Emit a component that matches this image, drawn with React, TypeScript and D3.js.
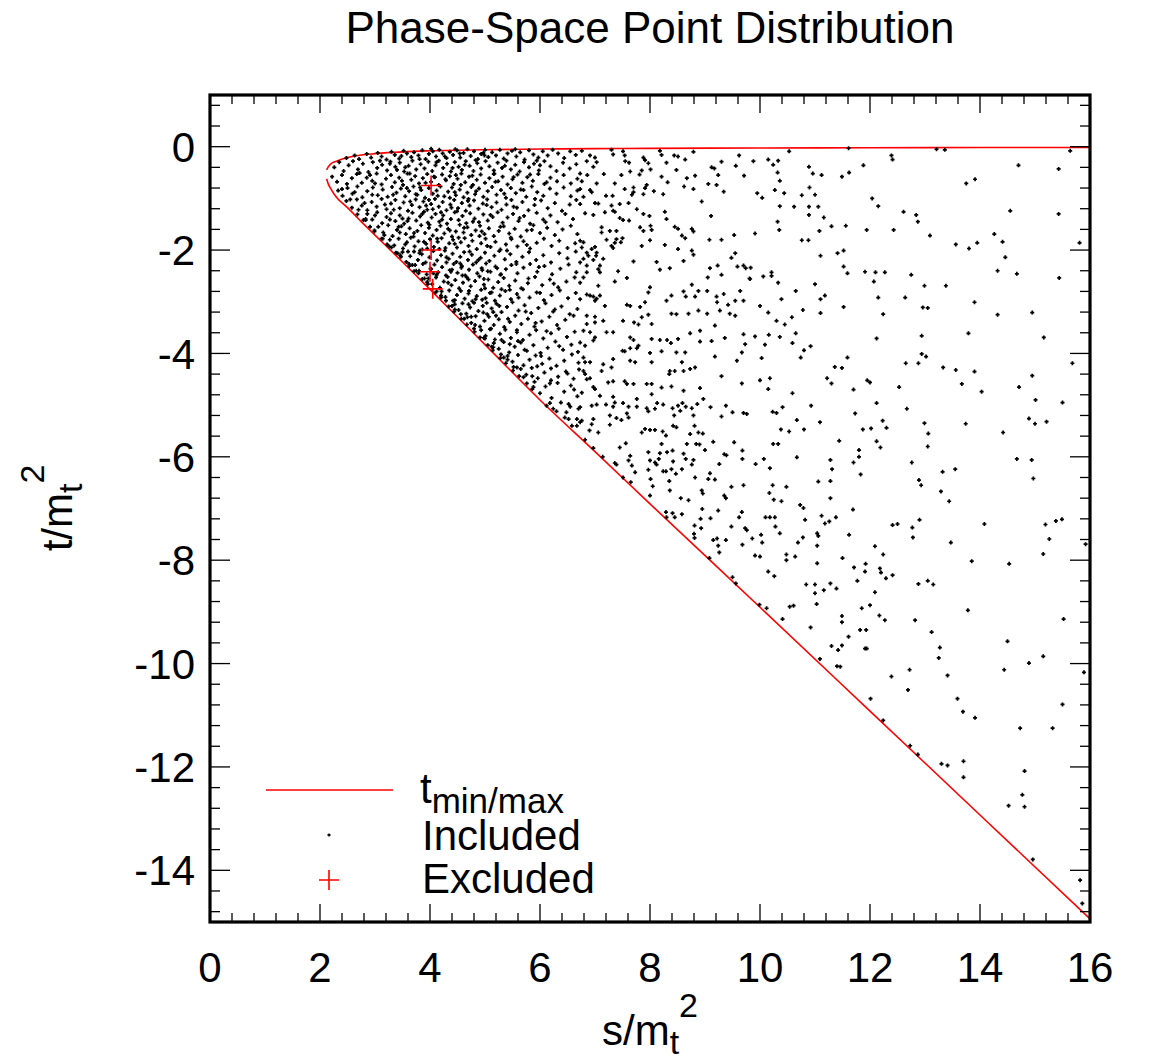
import React from "react";
import * as d3 from "d3";

// Kinematic boundary t_min / t_max sampled along s/m_t^2
const boundaryS = [2.12, 2.15, 2.2, 2.3, 2.5, 2.75, 3, 3.5, 4, 5, 6, 7, 8, 10, 12, 14, 16];
const boundaryTMax = [-0.45, -0.39, -0.33, -0.28, -0.21, -0.16, -0.135, -0.1, -0.08, -0.058, -0.046, -0.037, -0.032, -0.025, -0.02, -0.017, -0.015];
const boundaryTMin = [-0.62, -0.72, -0.82, -0.98, -1.18, -1.45, -1.71, -2.23, -2.76, -3.83, -4.9, -5.9, -6.91, -8.91, -10.92, -12.93, -14.94];

// Points rejected by the cuts
const excludedS = [4.02, 4.02, 4.0, 4.05];
const excludedT = [-0.75, -2.0, -2.42, -2.75];

// Accepted phase-space points, flat (s, t) pairs
const includedNearThreshold = [
  2.48,-0.22, 2.63,-0.17, 2.71,-0.24, 2.85,-0.14, 2.93,-0.21, 3.05,-0.12, 3.12,-0.19, 3.21,-0.25, 3.30,-0.10, 3.36,-0.16,
  3.44,-0.23, 3.52,-0.08, 3.58,-0.13, 3.66,-0.20, 3.71,-0.11, 3.79,-0.17, 3.86,-0.07, 3.92,-0.24, 3.98,-0.14, 4.05,-0.09,
  4.11,-0.19, 4.17,-0.06, 4.23,-0.13, 4.30,-0.22, 4.36,-0.10, 4.42,-0.16, 4.49,-0.07, 4.55,-0.21, 4.61,-0.12, 4.68,-0.05,
  4.74,-0.18, 4.80,-0.09, 4.87,-0.24, 4.93,-0.14, 5.0,-0.06, 5.06,-0.20, 5.13,-0.11, 5.20,-0.17, 5.27,-0.06, 5.34,-0.23,
  5.41,-0.13, 5.49,-0.08, 5.57,-0.19, 5.64,-0.11, 5.72,-0.25, 5.80,-0.07, 5.88,-0.15, 5.97,-0.21, 6.05,-0.09, 6.14,-0.17,
  6.23,-0.06, 6.33,-0.13, 6.44,-0.22, 6.55,-0.09, 6.65,-0.16, 4.02,-0.04, 4.46,-0.05, 4.97,-0.12, 3.48,-0.18, 5.55,-0.05,
  2.26,-0.40, 2.35,-0.30, 2.43,-0.47, 2.52,-0.36, 2.60,-0.28, 2.69,-0.44, 2.78,-0.33, 2.88,-0.49, 2.96,-0.30, 3.04,-0.41,
  3.13,-0.35, 3.22,-0.46, 3.28,-0.29, 3.37,-0.39, 3.45,-0.31, 3.53,-0.48, 3.61,-0.37, 3.68,-0.27, 3.75,-0.44, 3.83,-0.34,
  3.90,-0.42, 3.97,-0.29, 4.04,-0.47, 4.10,-0.36, 4.16,-0.27, 4.24,-0.41, 4.31,-0.33, 4.38,-0.48, 4.45,-0.30, 4.52,-0.39,
  4.58,-0.45, 4.65,-0.28, 4.72,-0.37, 4.79,-0.47, 4.86,-0.32, 4.93,-0.42, 5.01,-0.28, 5.08,-0.38, 5.16,-0.46, 5.23,-0.31,
  5.31,-0.41, 5.39,-0.27, 5.47,-0.44, 5.55,-0.35, 5.63,-0.48, 5.71,-0.30, 5.80,-0.40, 5.89,-0.33, 5.98,-0.46, 6.08,-0.28,
  6.19,-0.38, 6.30,-0.47, 6.42,-0.31, 6.54,-0.42, 6.66,-0.34, 4.83,-0.26, 3.40,-0.45, 5.94,-0.27,
  2.22,-0.58, 2.31,-0.68, 2.40,-0.55, 2.49,-0.72, 2.58,-0.61, 2.67,-0.53, 2.76,-0.70, 2.85,-0.60, 2.95,-0.66, 3.03,-0.52,
  3.12,-0.73, 3.20,-0.62, 3.29,-0.55, 3.36,-0.69, 3.44,-0.60, 3.51,-0.74, 3.59,-0.52, 3.66,-0.64, 3.73,-0.57, 3.80,-0.71,
  3.87,-0.61, 3.95,-0.53, 4.02,-0.68, 4.09,-0.59, 4.16,-0.74, 4.22,-0.54, 4.29,-0.65, 4.36,-0.57, 4.43,-0.72, 4.50,-0.62,
  4.57,-0.52, 4.64,-0.69, 4.71,-0.58, 4.78,-0.74, 4.85,-0.64, 4.92,-0.54, 5.00,-0.70, 5.08,-0.61, 5.16,-0.53, 5.24,-0.67,
  5.32,-0.58, 5.41,-0.73, 5.50,-0.63, 5.59,-0.54, 5.68,-0.70, 5.77,-0.59, 5.87,-0.66, 5.97,-0.53, 6.08,-0.72, 6.19,-0.60,
  6.31,-0.67, 6.43,-0.55, 6.56,-0.71, 6.68,-0.62, 3.92,-0.70, 4.47,-0.55,
  2.33,-0.85, 2.41,-0.95, 2.50,-0.80, 2.59,-0.91, 2.68,-0.77, 2.77,-0.98, 2.86,-0.86, 2.96,-0.79, 3.05,-0.94, 3.14,-0.83,
  3.23,-0.97, 3.31,-0.78, 3.39,-0.89, 3.47,-0.81, 3.55,-0.96, 3.62,-0.86, 3.70,-0.77, 3.77,-0.93, 3.84,-0.84, 3.91,-0.99,
  3.98,-0.80, 4.05,-0.91, 4.12,-0.85, 4.19,-0.77, 4.26,-0.96, 4.33,-0.87, 4.40,-0.79, 4.47,-0.94, 4.54,-0.83, 4.61,-0.98,
  4.68,-0.89, 4.75,-0.78, 4.82,-0.92, 4.89,-0.81, 4.97,-0.97, 5.05,-0.86, 5.13,-0.78, 5.21,-0.93, 5.29,-0.84, 5.38,-0.99,
  5.47,-0.80, 5.56,-0.90, 5.65,-0.83, 5.75,-0.97, 5.85,-0.77, 5.95,-0.88, 6.06,-0.95, 6.18,-0.81, 6.30,-0.91, 6.43,-0.79,
  6.56,-0.96, 6.68,-0.85, 4.36,-0.99, 3.58,-0.80,
  2.48,-1.05, 2.58,-1.18, 2.67,-1.02, 2.76,-1.14, 2.86,-1.23, 2.94,-1.07, 3.03,-1.16, 3.12,-1.01, 3.21,-1.21, 3.29,-1.10,
  3.37,-1.03, 3.45,-1.19, 3.52,-1.08, 3.60,-1.24, 3.67,-1.13, 3.74,-1.02, 3.81,-1.17, 3.88,-1.06, 3.95,-1.22, 4.02,-1.11,
  4.09,-1.01, 4.16,-1.16, 4.23,-1.07, 4.30,-1.23, 4.37,-1.12, 4.44,-1.03, 4.51,-1.19, 4.58,-1.09, 4.65,-1.24, 4.72,-1.14,
  4.80,-1.04, 4.88,-1.20, 4.96,-1.10, 5.04,-1.02, 5.12,-1.17, 5.21,-1.08, 5.30,-1.22, 5.39,-1.12, 5.48,-1.03, 5.58,-1.18,
  5.68,-1.07, 5.79,-1.23, 5.90,-1.13, 6.02,-1.04, 6.14,-1.19, 6.27,-1.09, 6.40,-1.24, 6.54,-1.12, 6.66,-1.03, 3.98,-1.03,
  4.70,-1.01,
  2.68,-1.31, 2.79,-1.42, 2.86,-1.30, 2.95,-1.41, 3.04,-1.27, 3.13,-1.48, 3.21,-1.36, 3.29,-1.29, 3.37,-1.44, 3.45,-1.33,
  3.53,-1.49, 3.61,-1.39, 3.68,-1.28, 3.75,-1.43, 3.82,-1.35, 3.89,-1.26, 3.96,-1.47, 4.03,-1.37, 4.10,-1.30, 4.17,-1.45,
  4.24,-1.33, 4.31,-1.49, 4.38,-1.40, 4.45,-1.27, 4.52,-1.42, 4.59,-1.34, 4.66,-1.48, 4.73,-1.29, 4.81,-1.39, 4.89,-1.46,
  4.97,-1.31, 5.05,-1.43, 5.14,-1.36, 5.23,-1.27, 5.32,-1.47, 5.41,-1.37, 5.51,-1.30, 5.61,-1.44, 5.71,-1.34, 5.82,-1.49,
  5.94,-1.28, 6.06,-1.41, 6.19,-1.33, 6.32,-1.46, 6.46,-1.30, 6.60,-1.40, 4.20,-1.27, 3.50,-1.39,
  2.91,-1.55, 2.99,-1.64, 3.06,-1.55, 3.15,-1.66, 3.24,-1.52, 3.32,-1.73, 3.40,-1.61, 3.48,-1.54, 3.56,-1.69, 3.63,-1.58,
  3.70,-1.74, 3.77,-1.63, 3.84,-1.52, 3.91,-1.67, 3.98,-1.57, 4.05,-1.72, 4.12,-1.61, 4.19,-1.53, 4.26,-1.68, 4.33,-1.59,
  4.40,-1.74, 4.47,-1.64, 4.54,-1.51, 4.61,-1.66, 4.68,-1.56, 4.75,-1.71, 4.83,-1.62, 4.91,-1.53, 4.99,-1.69, 5.07,-1.58,
  5.16,-1.73, 5.25,-1.63, 5.34,-1.54, 5.44,-1.68, 5.54,-1.59, 5.65,-1.74, 5.76,-1.62, 5.88,-1.52, 6.00,-1.67, 6.13,-1.57,
  6.27,-1.71, 6.41,-1.60, 6.56,-1.53, 6.68,-1.69, 4.90,-1.73, 3.45,-1.66,
  3.12,-1.78, 3.22,-1.89, 3.27,-1.80, 3.35,-1.91, 3.43,-1.78, 3.51,-1.97, 3.58,-1.85, 3.65,-1.76, 3.72,-1.93, 3.79,-1.83,
  3.86,-1.99, 3.93,-1.88, 4.00,-1.79, 4.07,-1.94, 4.14,-1.84, 4.21,-1.77, 4.28,-1.96, 4.35,-1.87, 4.42,-1.80, 4.49,-1.95,
  4.56,-1.85, 4.63,-1.77, 4.70,-1.92, 4.77,-1.82, 4.85,-1.98, 4.93,-1.87, 5.01,-1.78, 5.10,-1.94, 5.19,-1.84, 5.28,-1.99,
  5.38,-1.89, 5.48,-1.79, 5.59,-1.93, 5.70,-1.83, 5.82,-1.97, 5.94,-1.86, 6.07,-1.78, 6.21,-1.92, 6.35,-1.82, 6.50,-1.96,
  6.64,-1.87, 4.52,-1.76, 3.95,-1.97,
  3.38,-2.05, 3.47,-2.13, 3.50,-2.04, 3.57,-2.23, 3.64,-2.12, 3.71,-2.03, 3.78,-2.19, 3.85,-2.08, 3.92,-2.24, 3.99,-2.14,
  4.06,-2.02, 4.13,-2.20, 4.20,-2.10, 4.27,-2.01, 4.34,-2.17, 4.41,-2.07, 4.48,-2.23, 4.55,-2.13, 4.62,-2.04, 4.69,-2.19,
  4.76,-2.09, 4.84,-2.24, 4.92,-2.15, 5.00,-2.05, 5.08,-2.21, 5.17,-2.11, 5.26,-2.02, 5.36,-2.18, 5.46,-2.08, 5.57,-2.23,
  5.68,-2.13, 5.80,-2.04, 5.93,-2.19, 6.06,-2.10, 6.20,-2.24, 6.35,-2.06, 6.50,-2.16, 6.65,-2.03, 4.30,-2.24, 3.82,-2.01,
  3.62,-2.31, 3.71,-2.41, 3.73,-2.29, 3.80,-2.40, 3.87,-2.27, 3.94,-2.47, 4.01,-2.36, 4.08,-2.28, 4.15,-2.43, 4.22,-2.33,
  4.29,-2.49, 4.36,-2.39, 4.43,-2.27, 4.50,-2.44, 4.57,-2.34, 4.64,-2.49, 4.71,-2.38, 4.78,-2.28, 4.86,-2.45, 4.94,-2.35,
  5.02,-2.26, 5.10,-2.42, 5.19,-2.32, 5.28,-2.48, 5.38,-2.37, 5.48,-2.29, 5.59,-2.45, 5.70,-2.34, 5.82,-2.27, 5.95,-2.42,
  6.08,-2.31, 6.22,-2.47, 6.37,-2.36, 6.52,-2.28, 6.66,-2.43, 4.12,-2.48, 4.55,-2.26,
  3.86,-2.56, 3.96,-2.66, 3.97,-2.55, 4.04,-2.66, 4.11,-2.53, 4.18,-2.73, 4.25,-2.61, 4.32,-2.52, 4.39,-2.68, 4.46,-2.58,
  4.53,-2.74, 4.60,-2.63, 4.67,-2.53, 4.74,-2.70, 4.82,-2.60, 4.90,-2.51, 4.98,-2.67, 5.06,-2.57, 5.15,-2.73, 5.24,-2.62,
  5.34,-2.54, 5.44,-2.69, 5.55,-2.59, 5.66,-2.74, 5.78,-2.64, 5.91,-2.52, 6.04,-2.68, 6.18,-2.57, 6.33,-2.72, 6.48,-2.61,
  6.63,-2.53, 4.70,-2.57, 5.00,-2.74,
  4.10,-2.82, 4.20,-2.92, 4.21,-2.80, 4.28,-2.91, 4.35,-2.78, 4.42,-2.98, 4.49,-2.87, 4.56,-2.79, 4.63,-2.94, 4.70,-2.84,
  4.77,-2.99, 4.85,-2.89, 4.93,-2.77, 5.01,-2.93, 5.09,-2.83, 5.18,-2.98, 5.27,-2.88, 5.37,-2.79, 5.47,-2.95, 5.58,-2.85,
  5.69,-2.76, 5.81,-2.92, 5.94,-2.82, 6.07,-2.97, 6.21,-2.87, 6.36,-2.78, 6.51,-2.93, 6.65,-2.83, 4.95,-2.96, 5.30,-2.76,
  4.34,-3.09, 4.44,-3.19, 4.45,-3.05, 4.52,-3.16, 4.59,-3.03, 4.66,-3.23, 4.73,-3.11, 4.80,-3.02, 4.88,-3.18, 4.96,-3.08,
  5.04,-3.24, 5.12,-3.13, 5.21,-3.04, 5.30,-3.20, 5.40,-3.10, 5.50,-3.01, 5.61,-3.17, 5.72,-3.07, 5.84,-3.22, 5.97,-3.12,
  6.10,-3.03, 6.24,-3.19, 6.39,-3.09, 6.54,-3.24, 6.68,-3.14, 5.15,-3.20,
  4.57,-3.33, 4.67,-3.44, 4.68,-3.30, 4.75,-3.41, 4.83,-3.28, 4.91,-3.48, 4.99,-3.37, 5.07,-3.29, 5.16,-3.45, 5.25,-3.34,
  5.35,-3.49, 5.45,-3.39, 5.55,-3.27, 5.66,-3.43, 5.78,-3.33, 5.90,-3.48, 6.03,-3.38, 6.17,-3.29, 6.31,-3.45, 6.46,-3.35,
  6.61,-3.27, 5.20,-3.27,
  4.81,-3.58, 4.91,-3.69, 4.93,-3.55, 5.01,-3.66, 5.09,-3.53, 5.18,-3.73, 5.27,-3.62, 5.37,-3.54, 5.47,-3.70, 5.58,-3.59,
  5.69,-3.74, 5.81,-3.64, 5.93,-3.55, 6.06,-3.71, 6.20,-3.61, 6.34,-3.52, 6.49,-3.68, 6.63,-3.58, 5.30,-3.74,
  5.05,-3.84, 5.14,-3.94, 5.16,-3.80, 5.25,-3.91, 5.34,-3.78, 5.44,-3.98, 5.54,-3.87, 5.65,-3.79, 5.76,-3.95, 5.88,-3.84,
  6.01,-3.99, 6.14,-3.89, 6.28,-3.77, 6.42,-3.93, 6.57,-3.83, 6.69,-3.97, 5.60,-3.76,
  5.28,-4.09, 5.38,-4.19, 5.41,-4.05, 5.50,-4.16, 5.60,-4.03, 5.70,-4.23, 5.81,-4.12, 5.92,-4.04, 6.04,-4.20, 6.17,-4.10,
  6.30,-4.24, 6.44,-4.14, 6.58,-4.02, 6.70,-4.18,
  5.51,-4.33, 5.62,-4.44, 5.65,-4.30, 5.75,-4.41, 5.85,-4.28, 5.96,-4.48, 6.08,-4.37, 6.20,-4.29, 6.33,-4.45, 6.47,-4.35,
  6.61,-4.49, 6.71,-4.31,
  5.76,-4.58, 5.86,-4.69, 5.90,-4.55, 6.00,-4.77, 6.10,-4.64, 6.21,-4.86, 6.32,-4.57, 6.44,-4.74, 6.56,-4.62, 6.68,-4.83,
  6.20,-4.52,
];

const includedCore = [
  3.27,-0.33, 3.63,-0.52, 3.81,-0.24, 4.07,-0.58, 4.27,-0.19, 4.41,-0.41, 4.63,-0.35, 4.77,-0.56, 4.99,-0.17, 5.17,-0.52,
  5.36,-0.37, 5.52,-0.59, 2.91,-0.55, 3.09,-0.27, 4.54,-0.13, 4.12,-0.30, 3.55,-0.40, 5.82,-0.54, 6.00,-0.36, 2.72,-0.51,
  2.63,-0.88, 2.81,-1.09, 3.00,-0.71, 3.18,-1.12, 3.33,-0.93, 3.49,-0.66, 3.64,-1.06, 3.82,-0.79, 3.93,-1.14, 4.14,-0.95,
  4.28,-0.63, 4.39,-1.18, 4.56,-0.74, 4.69,-1.05, 4.84,-0.86, 5.03,-1.13, 5.19,-0.68, 5.35,-0.91, 5.52,-1.16, 5.70,-0.84,
  5.91,-1.01, 6.12,-0.69, 3.74,-0.92, 4.45,-0.88, 2.95,-0.93,
  2.83,-1.42, 3.00,-1.33, 3.17,-1.71, 3.34,-1.22, 3.43,-1.55, 3.59,-1.44, 3.71,-1.67, 3.86,-1.30, 3.99,-1.51, 4.13,-1.78,
  4.22,-1.41, 4.36,-1.62, 4.49,-1.25, 4.62,-1.57, 4.78,-1.45, 4.94,-1.64, 5.10,-1.32, 5.28,-1.55, 5.47,-1.76, 5.63,-1.38,
  5.85,-1.61, 6.10,-1.46, 4.05,-1.21, 3.27,-1.41,
  3.26,-1.93, 3.41,-2.06, 3.55,-1.89, 3.68,-2.29, 3.81,-2.06, 3.89,-1.84, 4.02,-2.37, 4.17,-1.98, 4.30,-2.14, 4.45,-1.88,
  4.58,-2.31, 4.72,-2.03, 4.88,-2.19, 5.04,-1.92, 5.22,-2.35, 5.40,-2.01, 5.57,-2.27, 5.76,-1.90, 5.98,-2.33, 4.40,-2.38,
  3.60,-2.03, 4.95,-2.39,
  3.75,-2.40, 3.90,-2.55, 4.06,-2.45, 4.20,-2.88, 4.33,-2.63, 4.45,-2.97, 4.59,-2.49, 4.71,-2.79, 4.83,-2.95, 4.98,-2.56,
  5.12,-2.82, 5.29,-2.47, 5.45,-2.77, 5.61,-2.92, 5.79,-2.55, 6.00,-2.83, 4.38,-2.42, 5.05,-2.41, 6.25,-2.65,
  4.40,-3.08, 4.56,-3.24, 4.70,-3.05, 4.82,-3.45, 4.97,-3.21, 5.11,-3.52, 5.26,-3.08, 5.42,-3.33, 5.58,-3.55, 5.74,-3.19,
  5.92,-3.41, 6.12,-3.57, 6.27,-3.15, 4.75,-3.29, 5.03,-3.02,
  5.00,-3.71, 5.12,-3.87, 5.29,-4.02, 5.45,-3.82, 5.58,-4.27, 5.72,-3.93, 5.86,-4.44, 6.02,-4.05, 6.18,-4.58, 6.35,-3.86,
  6.50,-4.39, 6.62,-4.70, 5.41,-4.12, 5.95,-4.25,
  2.40,-0.82, 2.55,-1.02, 2.70,-1.22, 2.83,-1.40, 2.99,-1.62, 3.14,-1.78, 3.30,-1.95, 3.46,-2.10, 3.62,-2.27, 3.79,-2.45,
  3.95,-2.62, 4.12,-2.80, 4.29,-2.98, 4.45,-3.15, 4.62,-3.33, 4.80,-3.52, 4.98,-3.70, 5.15,-3.88, 5.34,-4.08, 5.52,-4.26,
  5.70,-4.46, 5.88,-4.65,
];

const includedMidUpper = [
  6.76,-0.08, 6.91,-0.17, 7.0,-0.21, 7.30,-0.06, 7.33,-0.15, 7.51,-0.09, 7.54,-0.17, 7.88,-0.21, 8.18,-0.08, 8.21,-0.16,
  8.44,-0.17, 8.51,-0.19, 8.79,-0.10, 9.62,-0.17, 10.53,-0.09,
  7.03,-0.30, 6.97,-0.39, 7.55,-0.28, 7.62,-0.31, 7.91,-0.26, 7.97,-0.32, 8.30,-0.31, 8.64,-0.25, 9.30,-0.29, 9.88,-0.28,
  10.15,-0.25, 10.24,-0.35, 10.33,-0.27, 9.56,-0.37, 10.89,-0.39, 6.85,-0.28,
  6.73,-0.52, 6.86,-0.55, 7.16,-0.53, 7.48,-0.55, 7.64,-0.48, 7.81,-0.54, 7.85,-0.46, 8.01,-0.44, 8.21,-0.58, 8.48,-0.45,
  8.67,-0.61, 8.82,-0.56, 9.12,-0.40, 9.17,-0.42, 9.24,-0.55, 9.71,-0.56, 10.32,-0.50, 10.96,-0.52, 11.12,-0.55,
  6.76,-0.67, 7.03,-0.71, 7.36,-0.71, 6.73,-0.82, 6.91,-0.84, 6.94,-0.88, 7.54,-0.82, 7.70,-0.79, 7.70,-0.88, 7.67,-0.93,
  7.91,-0.80, 7.94,-0.74, 7.88,-0.92, 8.07,-0.86, 8.24,-0.92, 8.32,-0.69, 8.62,-0.77, 8.79,-0.82, 9.06,-0.72, 9.21,-0.74,
  9.34,-0.87, 10.27,-0.84, 10.44,-0.90, 10.36,-0.66, 9.95,-0.90, 10.04,-0.99, 10.76,-0.94, 11.0,-0.93, 10.90,-0.79,
  7.32,-0.95, 7.20,-0.95, 6.79,-0.97,
  6.73,-1.11, 7.0,-1.09, 7.06,-1.10, 7.30,-1.14, 7.45,-1.11, 7.61,-1.09, 8.94,-1.06, 7.33,-1.24, 7.36,-1.26, 7.18,-1.27,
  6.82,-1.29, 6.97,-1.32, 7.76,-1.21, 7.88,-1.30, 7.99,-1.34, 8.27,-1.26, 8.30,-1.40, 9.11,-1.34, 10.32,-1.45, 10.36,-1.15,
  10.62,-1.16, 10.89,-1.16, 10.89,-1.32, 11.06,-1.16, 11.16,-1.37, 11.30,-1.54, 7.45,-1.38, 7.51,-1.42, 7.62,-1.43,
  7.12,-1.56, 7.12,-1.66, 7.27,-1.63, 7.39,-1.63, 7.39,-1.79, 7.50,-1.77, 7.82,-1.56, 7.88,-1.63, 8.01,-1.53, 8.03,-1.61,
  8.0,-1.81, 8.45,-1.55, 8.51,-1.59, 8.58,-1.72, 8.64,-1.77, 8.76,-1.59, 8.79,-1.64, 9.08,-1.80, 9.30,-1.80, 9.53,-1.71,
  9.91,-1.68, 10.35,-1.61, 10.76,-1.81, 10.88,-1.81, 11.08,-1.63, 6.73,-1.82, 6.79,-1.85, 6.76,-1.95, 6.94,-1.98, 7.0,-1.94,
  7.03,-2.05, 6.85,-2.05, 7.21,-1.80, 7.30,-1.92, 7.33,-1.96, 7.36,-1.86, 7.47,-1.85, 7.85,-1.92, 8.76,-2.01, 8.79,-2.09,
  8.51,-1.98, 8.27,-1.90,
  6.79,-2.17, 6.88,-2.11, 6.97,-2.19, 7.02,-2.11, 7.09,-2.30, 7.15,-2.17, 7.06,-2.37, 6.85,-2.30, 6.73,-2.24, 7.70,-2.22,
  8.12,-2.23, 8.18,-2.38, 8.36,-2.35, 8.61,-2.21, 9.48,-2.15, 9.55,-2.06, 9.59,-2.32, 9.70,-2.30, 9.74,-2.35, 9.83,-2.34,
  9.09,-2.35, 9.23,-2.30, 9.30,-2.48, 9.05,-2.53, 10.21,-2.43, 10.21,-2.50, 10.06,-2.51, 9.81,-2.55, 10.33,-2.63, 11.0,-2.66,
  11.10,-2.11, 11.41,-2.06, 7.42,-2.41, 7.58,-2.54, 7.36,-2.61, 7.09,-2.43, 6.85,-2.43, 6.79,-2.53, 6.73,-2.63,
  7.06,-2.69, 7.09,-2.88, 6.85,-2.86, 6.91,-2.88, 6.97,-2.90, 7.03,-2.94, 7.0,-2.98, 6.73,-2.95, 7.18,-3.08, 6.85,-3.27,
  8.0,-2.72, 7.97,-2.82, 7.82,-3.10, 7.91,-3.01, 7.58,-3.06, 7.64,-3.08, 8.30,-2.98, 8.39,-2.88, 8.61,-2.80, 8.65,-2.90,
  8.76,-2.67, 8.82,-2.90, 8.88,-2.79, 9.04,-2.79, 9.21,-2.90, 9.34,-2.85, 9.22,-3.01, 9.42,-3.06, 9.55,-2.98, 9.70,-2.98,
  10.0,-3.08, 9.64,-2.79, 9.82,-2.56, 10.39,-2.95, 10.65,-2.79, 11.10,-2.95, 11.18,-2.88, 8.39,-3.23, 8.48,-3.24, 8.70,-3.23,
  8.88,-3.17, 9.04,-3.23, 9.27,-3.17, 9.45,-3.23, 9.55,-3.27, 10.15,-3.21, 10.78,-3.16, 11.10,-3.22, 7.15,-3.37, 7.0,-3.29,
  7.0,-3.40, 6.85,-3.43, 7.51,-3.37, 7.71,-3.40, 7.79,-3.44, 7.85,-3.30, 7.97,-3.25, 8.03,-3.43, 9.18,-3.46, 8.91,-3.56,
  10.30,-3.37, 10.45,-3.44, 10.58,-3.30,
  6.79,-3.56, 6.91,-3.59, 7.0,-3.69, 6.97,-3.75, 6.82,-3.85, 6.73,-3.79, 7.21,-3.59, 7.33,-3.59, 7.64,-3.69, 7.70,-3.74,
  7.79,-3.85, 8.03,-3.72, 8.18,-3.74, 8.31,-3.74, 8.38,-3.80, 8.51,-3.72, 8.73,-3.61, 8.91,-3.77, 9.12,-3.76, 9.36,-3.70,
  9.70,-3.63, 9.73,-3.82, 9.91,-3.67, 10.09,-3.83, 10.16,-3.64, 10.36,-3.68, 10.59,-3.80, 10.65,-3.61, 10.80,-3.94, 10.92,-3.86,
  7.50,-3.95, 7.54,-3.96, 7.64,-3.90, 7.76,-3.90, 8.0,-3.99, 8.21,-3.96, 8.48,-3.98, 8.64,-3.98, 6.79,-4.08, 6.82,-4.17,
  6.91,-4.17, 7.15,-4.21, 7.12,-4.34, 7.30,-4.27, 7.33,-4.11, 7.64,-4.14, 7.73,-4.17, 8.03,-4.17, 8.36,-4.34, 8.35,-4.40,
  8.45,-4.34, 8.61,-4.34, 8.58,-4.17, 8.73,-4.30, 8.82,-4.27, 9.18,-4.06, 9.58,-4.14, 9.67,-3.98, 10.03,-4.09, 10.74,-4.08,
  11.36,-4.26, 6.79,-4.34, 6.82,-4.40, 6.85,-4.50, 6.91,-4.48, 6.97,-4.65, 7.0,-4.69, 7.09,-4.82, 7.24,-4.56, 7.33,-4.54,
  7.54,-4.54, 7.58,-4.59, 7.70,-4.59, 7.94,-4.59, 8.03,-4.59, 8.21,-4.66, 8.39,-4.64, 8.61,-4.72, 8.91,-4.67, 9.30,-4.44,
  9.67,-4.58, 10.0,-4.52, 10.18,-4.48, 10.15,-4.69, 10.59,-4.77, 11.22,-4.48, 11.30,-4.58, 6.76,-4.76, 7.33,-4.84,
  7.76,-4.88, 8.03,-4.79, 8.97,-4.88,
];

const includedFarUpper = [
  11.61,-0.03, 13.21,-0.05, 13.36,-0.06, 15.64,-0.08, 12.39,-0.17, 12.41,-0.25, 11.88,-0.36, 14.70,-0.36, 15.43,-0.43,
  11.62,-0.50, 11.49,-0.58, 13.75,-0.71, 13.91,-0.63, 12.04,-1.00, 12.15,-1.15, 12.61,-1.26, 12.84,-1.32, 12.87,-1.45,
  14.55,-1.24, 15.43,-1.30, 11.56,-1.53, 11.94,-1.61, 12.43,-1.61, 13.09,-1.72, 13.56,-1.89, 13.80,-1.97, 13.95,-1.86,
  14.26,-1.69, 14.41,-1.84, 14.46,-2.14, 15.81,-1.86, 11.52,-2.01, 11.52,-2.32, 11.59,-2.45, 11.91,-2.42, 12.10,-2.43,
  12.27,-2.43, 12.07,-2.61, 12.75,-2.48, 12.99,-2.69, 13.38,-2.69, 14.32,-2.40, 14.67,-2.46, 15.44,-2.54, 12.15,-2.92,
  12.64,-2.92, 13.90,-3.01, 11.52,-3.10, 12.24,-3.24, 12.96,-3.11, 13.05,-3.12, 14.32,-3.25, 14.95,-3.21, 12.12,-3.71,
  12.94,-3.66, 13.79,-3.61, 15.16,-3.69, 12.94,-4.01, 13.02,-4.06, 11.59,-4.08, 11.49,-4.28, 12.65,-4.19, 12.88,-4.19,
  13.33,-4.27, 13.56,-4.32, 13.90,-4.35, 15.68,-4.19, 14.95,-4.43, 11.95,-4.52, 12.0,-4.56, 11.70,-4.70, 12.53,-4.65,
  13.67,-4.59, 14.03,-4.74, 14.71,-4.65, 15.01,-4.90,
];

const includedMidLower = [
  6.12,-5.01, 6.24,-5.07, 6.30,-5.12, 6.38,-4.95, 6.52,-4.98, 6.55,-5.03, 6.48,-5.14, 6.45,-5.24, 6.52,-5.27, 6.58,-5.40,
  6.67,-5.40, 6.67,-5.27, 6.70,-5.07, 6.18,-4.96,
  6.73,-5.04, 6.76,-5.30, 6.94,-5.01, 7.03,-4.99, 7.20,-4.99, 7.33,-5.03, 7.36,-4.95, 7.51,-4.96, 7.61,-5.03, 7.76,-5.03,
  7.94,-5.06, 7.97,-5.12, 8.09,-5.07, 8.13,-4.96, 8.24,-4.99, 8.41,-5.06, 8.51,-5.01, 8.59,-4.96, 8.65,-5.03, 8.76,-5.06,
  8.86,-4.98, 9.10,-5.04, 9.38,-5.01, 9.50,-5.14, 9.70,-5.15, 9.76,-5.17, 10.23,-5.13, 10.30,-5.15, 10.41,-5.04, 10.67,-5.29,
  10.93,-5.01, 11.09,-5.33, 6.73,-5.33, 6.97,-5.27, 6.94,-5.37, 7.27,-5.20, 7.39,-5.25, 7.48,-5.29, 7.58,-5.16, 7.61,-5.24,
  7.85,-5.53, 7.91,-5.46, 8.0,-5.48, 8.09,-5.48, 8.23,-5.51, 8.29,-5.59, 8.42,-5.40, 8.48,-5.43, 8.55,-5.11, 8.44,-5.20,
  8.79,-5.20, 8.81,-5.40, 8.73,-5.56, 8.88,-5.53, 8.96,-5.55, 9.15,-5.71, 9.30,-5.22, 9.53,-5.72, 9.68,-5.88, 9.68,-6.04,
  9.92,-6.14, 10.07,-6.04, 10.18,-6.22, 10.24,-5.75, 10.33,-5.75, 10.38,-5.47, 10.53,-5.51, 10.67,-6.01, 10.80,-5.47,
  11.28,-6.06, 11.31,-6.24, 11.44,-5.69, 11.06,-6.48, 11.28,-6.47, 11.28,-6.80, 6.90,-5.49, 7.06,-5.53, 7.27,-5.38,
  7.45,-5.82, 7.56,-5.74, 7.64,-5.98, 7.36,-6.12, 7.39,-6.15, 7.61,-6.07, 7.67,-6.17, 7.97,-5.91, 8.0,-6.07, 8.09,-6.11,
  8.16,-6.04, 8.18,-5.93, 8.21,-5.75, 8.31,-5.91, 8.41,-5.88, 8.42,-6.09, 7.97,-6.25, 8.12,-6.15, 8.24,-6.28, 8.29,-6.28,
  8.39,-6.24, 8.47,-6.33, 8.67,-5.75, 8.61,-5.94, 8.65,-6.04, 8.79,-6.06, 8.76,-6.15, 8.84,-5.75, 8.90,-5.76, 9.0,-5.87,
  8.58,-6.24, 8.82,-6.40, 9.06,-6.43, 9.09,-6.32, 9.18,-6.44, 9.26,-6.14, 9.35,-5.95, 9.39,-5.97, 7.51,-6.40, 7.65,-6.49,
  7.73,-6.30, 8.01,-6.43, 8.05,-6.57, 8.0,-6.75, 8.35,-6.47, 8.36,-6.65, 8.56,-6.80, 8.70,-6.84, 8.94,-6.65, 8.96,-6.71,
  9.48,-6.58, 9.70,-6.55, 9.35,-6.75, 9.38,-6.80, 9.24,-7.04, 9.10,-7.19, 8.95,-7.01, 8.81,-7.33, 8.92,-7.20, 8.93,-7.38,
  8.41,-7.09, 8.30,-7.17, 8.29,-7.07, 8.45,-7.17, 8.58,-7.11, 8.80,-7.49, 8.81,-7.57, 9.15,-7.61, 9.22,-7.58, 9.24,-7.72,
  9.26,-7.85, 9.38,-7.61, 9.48,-7.35, 9.62,-7.17, 9.67,-7.07, 9.73,-7.38, 9.76,-7.42, 9.86,-7.58, 10.02,-7.51, 10.04,-7.66,
  10.10,-7.17, 10.18,-7.17, 10.27,-7.17, 10.28,-7.35, 10.36,-7.48, 10.17,-6.70, 10.25,-6.83, 10.39,-6.86, 10.23,-6.55,
  10.48,-6.58, 10.73,-6.93, 10.79,-6.99, 10.82,-7.22, 10.78,-7.56, 10.69,-7.66, 11.04,-7.48, 11.06,-7.53, 11.12,-7.14,
  11.18,-7.29, 11.26,-7.25, 11.38,-7.17, 11.04,-7.72, 11.04,-8.06, 11.0,-8.64, 10.84,-8.47, 11.0,-8.47, 11.16,-8.58,
  11.28,-8.45, 11.39,-8.55, 11.03,-8.85, 10.92,-9.30, 9.08,-7.96, 9.50,-8.33, 9.56,-8.45, 9.68,-7.70, 9.91,-7.91, 10.0,-7.93,
  10.15,-8.22, 10.26,-8.31, 10.48,-7.89, 10.48,-8.0, 10.64,-7.93, 10.54,-8.90, 10.61,-8.88, 9.99,-8.86, 10.12,-8.93,
  10.41,-9.14, 11.30,-9.66, 11.42,-9.74, 11.09,-9.91, 6.82,-5.67, 6.97,-5.83, 7.14,-6.0,
];

const includedFarLower = [
  11.73,-5.16, 12.12,-4.96, 12.67,-5.07, 15.50,-4.95, 12.23,-5.30, 12.30,-5.44, 12.02,-5.45, 11.87,-5.47, 12.99,-5.35,
  13.06,-5.55, 13.74,-5.36, 14.42,-5.53, 14.89,-5.26, 15.0,-5.36, 15.21,-5.32, 12.12,-5.70, 12.19,-5.82, 13.05,-5.80,
  11.80,-5.87, 11.80,-6.0, 11.70,-6.11, 12.76,-6.11, 11.83,-6.34, 13.32,-6.29, 13.55,-6.24, 12.89,-6.45, 12.93,-6.55,
  13.29,-6.67, 13.44,-6.86, 14.67,-6.04, 14.94,-6.06, 14.97,-6.42, 11.69,-7.02, 11.62,-7.51, 12.41,-7.32, 12.50,-7.30,
  12.77,-7.37, 12.90,-7.22, 12.78,-7.56, 13.47,-7.66, 14.08,-7.30, 15.19,-7.31, 15.38,-7.24, 15.49,-7.21, 15.26,-7.59,
  15.92,-7.69, 11.50,-7.96, 12.09,-7.73, 12.24,-7.89, 11.92,-8.07, 11.71,-8.14, 11.91,-8.22, 11.77,-8.40, 12.18,-8.16,
  12.20,-8.24, 12.29,-8.35, 12.41,-8.29, 12.88,-8.46, 13.05,-8.40, 13.15,-8.47, 13.85,-8.02, 14.53,-8.07, 15.15,-7.88,
  12.09,-8.62, 11.85,-8.93, 12.0,-8.87, 12.17,-9.07, 12.27,-9.16, 11.49,-9.08, 11.49,-9.20, 11.82,-9.35, 11.93,-9.35,
  12.82,-9.16, 13.78,-8.97, 15.52,-9.14, 11.61,-9.48, 11.49,-9.65, 11.91,-9.71, 11.94,-9.71, 13.12,-9.39, 13.27,-9.69,
  13.25,-9.89, 14.50,-9.57, 15.15,-9.86,
  11.46,-10.06, 12.01,-10.68, 12.24,-11.10, 12.39,-10.25, 12.72,-10.12, 12.69,-10.51, 12.73,-11.59, 12.87,-11.76,
  13.30,-11.94, 13.41,-11.97, 13.41,-10.23, 13.59,-10.68, 13.69,-10.93, 13.70,-11.89, 13.70,-12.20, 13.91,-11.05,
  14.44,-10.12, 14.73,-11.25, 14.81,-12.08, 14.77,-12.54, 14.52,-12.75, 14.81,-12.77, 14.89,-9.99, 14.96,-13.79,
  15.32,-11.25, 15.50,-10.79, 15.89,-10.17, 15.82,-14.19, 15.86,-14.64, 11.40,-10.05,
];

const xTickValues = [0, 2, 4, 6, 8, 10, 12, 14, 16];
const yTickValues = [0, -2, -4, -6, -8, -10, -12, -14];

const FONT = "'Liberation Sans', Arial, Helvetica, sans-serif";

function toPairs(flat: number[]): [number, number][] {
  const out: [number, number][] = [];
  for (let i = 0; i + 1 < flat.length; i += 2) out.push([flat[i], flat[i + 1]]);
  return out;
}

export default function App() {
  const width = 1149;
  const height = 1061;
  const left = 210, right = 1090, top = 95, bottom = 922;

  const x = d3.scaleLinear().domain([0, 16]).range([left, right]);
  const y = d3.scaleLinear().domain([-15, 1]).range([bottom, top]);

  const included = [
    ...toPairs(includedNearThreshold),
    ...toPairs(includedCore),
    ...toPairs(includedMidUpper),
    ...toPairs(includedFarUpper),
    ...toPairs(includedMidLower),
    ...toPairs(includedFarLower),
  ];

  const line = d3
    .line<number>()
    .x((_, i) => x(boundaryS[i]))
    .curve(d3.curveMonotoneX);
  const upperPath = line.y((d) => y(d))(boundaryTMax) || "";
  const lowerPath = line.y((d) => y(d))(boundaryTMin) || "";

  const isMajor = (v: number) => Math.abs(v / 2 - Math.round(v / 2)) < 1e-6;
  const xMinor = d3.range(1, 40).map((k) => k * 0.4).filter((v) => !isMajor(v));
  const yMinor = d3.range(-37, 3).map((k) => k * 0.4).filter((v) => !isMajor(v) && v > -15 && v < 1);

  const plus = (cx: number, cy: number, r: number) => `M${cx - r},${cy}H${cx + r}M${cx},${cy - r}V${cy + r}`;

  // every accepted point drawn as a tiny bold cross
  const dotsPath = included.map(([s, t]) => plus(x(s), y(t), 2)).join("");

  return (
    <svg
      width={width}
      height={height}
      viewBox={`0 0 ${width} ${height}`}
      style={{ position: "absolute", left: 0, top: 0, background: "#fff" }}
      fontFamily={FONT}
    >
      <rect x={0} y={0} width={width} height={height} fill="#fff" />

      <text x={650} y={43} fontSize={44} textAnchor="middle" fill="#000">
        Phase-Space Point Distribution
      </text>

      {/* boundary curves */}
      <path d={upperPath} fill="none" stroke="#ff0000" strokeWidth={1.6} />
      <path d={lowerPath} fill="none" stroke="#ff0000" strokeWidth={1.6} />

      {/* accepted points */}
      <path d={dotsPath} stroke="#000" strokeWidth={1.7} fill="none" />

      {/* rejected points */}
      <g stroke="#ff0000" strokeWidth={1.6} fill="none">
        {excludedS.map((s, i) => (
          <path key={i} d={plus(x(s), y(excludedT[i]), 10)} />
        ))}
      </g>

      {/* ticks on all four sides */}
      <g stroke="#000" strokeWidth={1.3}>
        {xTickValues.map((v) => (
          <g key={`xt${v}`}>
            <line x1={x(v)} x2={x(v)} y1={bottom} y2={bottom - 18} />
            <line x1={x(v)} x2={x(v)} y1={top} y2={top + 18} />
          </g>
        ))}
        {xMinor.map((v) => (
          <g key={`xm${v}`}>
            <line x1={x(v)} x2={x(v)} y1={bottom} y2={bottom - 9} />
            <line x1={x(v)} x2={x(v)} y1={top} y2={top + 9} />
          </g>
        ))}
        {yTickValues.map((v) => (
          <g key={`yt${v}`}>
            <line x1={left} x2={left + 20} y1={y(v)} y2={y(v)} />
            <line x1={right} x2={right - 20} y1={y(v)} y2={y(v)} />
          </g>
        ))}
        {yMinor.map((v) => (
          <g key={`ym${v}`}>
            <line x1={left} x2={left + 10} y1={y(v)} y2={y(v)} />
            <line x1={right} x2={right - 10} y1={y(v)} y2={y(v)} />
          </g>
        ))}
      </g>

      <rect x={left} y={top} width={right - left} height={bottom - top} fill="none" stroke="#000" strokeWidth={3.2} />

      {/* tick labels */}
      <g fontSize={42} fill="#000">
        {xTickValues.map((v) => (
          <text key={`xl${v}`} x={x(v)} y={982} textAnchor="middle">
            {v}
          </text>
        ))}
        {yTickValues.map((v) => (
          <text key={`yl${v}`} x={195} y={y(v)} dy="0.36em" textAnchor="end">
            {v}
          </text>
        ))}
      </g>

      {/* axis titles */}
      <text x={650} y={1045} fontSize={42} textAnchor="middle" fill="#000">
        <tspan>s/m</tspan>
        <tspan fontSize={34} dy={9}>t</tspan>
        <tspan fontSize={34} dy={-37}>2</tspan>
      </text>
      <text transform="translate(72,508) rotate(-90)" fontSize={42} textAnchor="middle" fill="#000">
        <tspan>t/m</tspan>
        <tspan fontSize={34} dy={10}>t</tspan>
        <tspan fontSize={34} dy={-38}>2</tspan>
      </text>

      {/* legend */}
      <line x1={266} x2={393} y1={790} y2={790} stroke="#ff0000" strokeWidth={1.6} />
      <text x={420} y={803} fontSize={42} fill="#000">
        <tspan>t</tspan>
        <tspan fontSize={35} dy={10}>min/max</tspan>
      </text>
      <path d={plus(329, 835, 1.6)} stroke="#000" strokeWidth={1.5} fill="none" />
      <text x={422} y={850} fontSize={42} fill="#000">Included</text>
      <path d={plus(329, 880, 10)} stroke="#ff0000" strokeWidth={1.6} fill="none" />
      <text x={422} y={893} fontSize={42} fill="#000">Excluded</text>
    </svg>
  );
}
